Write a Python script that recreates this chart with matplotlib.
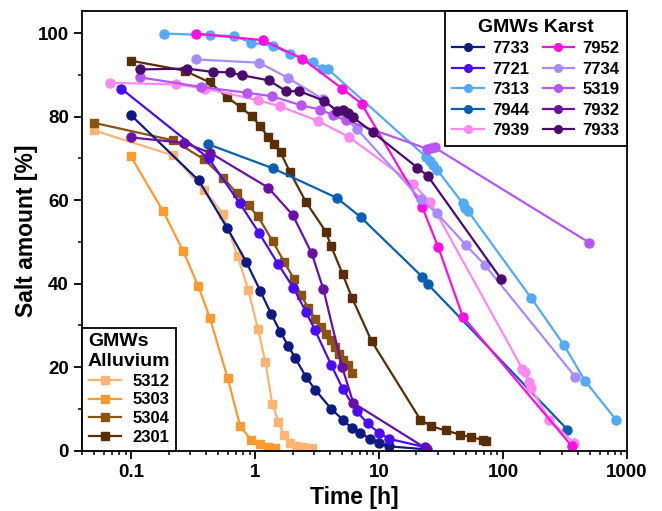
import matplotlib
matplotlib.use("Agg")
import matplotlib.pyplot as plt
from matplotlib.ticker import LogLocator, FixedLocator, NullFormatter, MultipleLocator

plt.rcParams['font.family'] = ['Liberation Sans', 'DejaVu Sans']
plt.rcParams['font.weight'] = 'bold'

# ---------------- data (time [h], salt amount [%]) ----------------
# Karst
x7733 = [0.099, 0.35, 0.592, 0.846, 1.10, 1.34, 1.59, 1.85, 2.10, 2.57, 3.04, 4.09, 5.08, 5.99, 6.99, 8.51, 10.0, 12.0, 23.4]
y7733 = [80.4, 64.7, 53.4, 45.2, 38.2, 32.8, 28.5, 25.0, 22.2, 17.6, 14.6, 10.0, 7.4, 5.4, 4.2, 2.8, 1.8, 1.0, 0.3]
x7721 = [0.083, 0.42, 0.748, 1.08, 1.52, 2.03, 2.57, 3.04, 4.09, 5.08, 6.58, 8.06, 10.0, 12.0, 23.5]
y7721 = [86.7, 70.0, 59.3, 52.0, 44.8, 39.0, 33.2, 28.8, 20.6, 14.8, 9.4, 6.5, 4.2, 2.8, 0.8]
x7313 = [0.183, 0.434, 0.678, 0.929, 1.40, 1.91, 2.91, 3.44, 3.89, 24.0, 25.5, 27.2, 29.3, 47.3, 49.7, 52.0, 169, 311, 460, 814]
y7313 = [99.9, 99.5, 99.3, 97.7, 96.9, 95.0, 93.1, 91.5, 91.3, 70.3, 69.3, 68.3, 67.3, 59.2, 58.2, 57.4, 36.5, 25.2, 16.6, 7.4]
x7944 = [0.415, 1.39, 4.57, 7.1, 22.3, 24.8, 331]
y7944 = [73.4, 67.6, 60.5, 55.9, 41.6, 39.8, 5.0]
x7939 = [0.067, 0.231, 0.396, 1.06, 1.57, 3.19, 5.71, 18.8, 25.9, 143, 150, 163, 168, 236, 375]
y7939 = [88.1, 87.7, 86.7, 83.9, 82.5, 79.0, 75.1, 63.8, 59.5, 19.6, 18.8, 16.4, 15.0, 7.4, 1.75]
x7952 = [0.333, 1.15, 2.40, 5.04, 7.21, 22.3, 29.9, 47.3, 360]
y7952 = [99.9, 98.3, 93.9, 86.7, 83.1, 58.3, 48.8, 32.1, 1.0]
x7734 = [0.333, 1.08, 1.83, 3.55, 6.58, 21.6, 29.3, 50.3, 71, 381]
y7734 = [93.7, 92.9, 89.3, 84.1, 77.1, 60.2, 56.8, 49.2, 44.5, 17.7]
x5319 = [0.117, 0.368, 0.857, 1.36, 2.35, 3.33, 4.27, 5.39, 24.4, 26.0, 28.0, 496]
y5319 = [89.4, 87.1, 85.7, 84.9, 82.7, 81.7, 80.3, 79.1, 72.3, 72.5, 72.6, 49.8]
x7932 = [0.1, 0.268, 0.434, 1.27, 2.01, 2.86, 3.55, 5.03, 6.18, 24.5]
y7932 = [75.0, 73.7, 71.3, 63.0, 56.4, 47.2, 38.6, 20.0, 11.4, 0.3]
x7933 = [0.117, 0.282, 0.454, 0.622, 0.782, 1.28, 1.78, 2.27, 3.59, 4.54, 5.08, 5.63, 6.1, 8.84, 20.3, 24.8, 96.9]
y7933 = [91.3, 91.5, 90.7, 90.6, 89.9, 88.7, 86.1, 86.1, 83.8, 81.4, 81.5, 80.9, 79.9, 76.3, 67.8, 65.7, 41.0]

# Alluvium
x5312 = [0.050, 0.218, 0.384, 0.550, 0.721, 0.879, 1.05, 1.21, 1.37, 1.54, 1.71, 1.91, 2.14, 2.45, 2.86]
y5312 = [76.7, 70.7, 62.5, 56.7, 46.6, 38.4, 29.2, 21.1, 11.2, 6.9, 3.6, 1.8, 1.1, 0.8, 0.6]
x5303 = [0.099, 0.181, 0.263, 0.347, 0.431, 0.60, 0.757, 0.923, 1.09, 1.27, 1.44]
y5303 = [70.5, 57.3, 47.7, 39.4, 31.7, 17.3, 5.8, 2.6, 1.5, 0.8, 0.5]
x5304 = [0.050, 0.218, 0.384, 0.55, 0.712, 0.884, 1.05, 1.38, 1.71, 2.06, 2.34, 2.68, 3.04, 3.38, 3.70, 4.06, 4.40, 4.76, 5.13, 5.56, 5.99]
y5304 = [78.5, 74.3, 69.8, 65.4, 61.6, 58.7, 56.1, 50.2, 45.2, 41.0, 37.2, 34.2, 31.6, 29.6, 28.0, 26.4, 24.8, 23.2, 21.8, 20.6, 18.5]
x2301 = [0.099, 0.27, 0.429, 0.595, 0.762, 0.934, 1.10, 1.27, 1.41, 1.6, 1.91, 2.57, 3.72, 4.09, 5.08, 6.06, 8.69, 21.5, 26.4, 34.4, 45.3, 54.6, 68.4, 73]
y2301 = [93.4, 91.0, 88.2, 84.6, 82.3, 80.1, 77.7, 75.1, 73.4, 71.4, 66.7, 59.5, 52.4, 49.0, 42.2, 36.5, 26.2, 7.4, 5.8, 4.8, 3.8, 3.2, 2.6, 2.2]

karst_labels = ['7733', '7721', '7313', '7944', '7939', '7952', '7734', '5319', '7932', '7933']
karst_x = [x7733, x7721, x7313, x7944, x7939, x7952, x7734, x5319, x7932, x7933]
karst_y = [y7733, y7721, y7313, y7944, y7939, y7952, y7734, y5319, y7932, y7933]
karst_colors = ['#0c1a82', '#4a0cf2', '#55aaf5', '#0a5fb2', '#ff88f2', '#ff10e2',
                '#a98bff', '#b855f5', '#6a10a8', '#4b0a6e']

alluv_labels = ['5312', '5303', '5304', '2301']
alluv_x = [x5312, x5303, x5304, x2301]
alluv_y = [y5312, y5303, y5304, y2301]
alluv_colors = ['#ffb472', '#ff9a30', '#8a5410', '#5a2e05']

# ---------------- figure ----------------
fig = plt.figure(figsize=(6.62, 5.11), dpi=100)
ax = fig.add_axes([82/662, 1-450.5/511, (627-82)/662, (450.5-11)/511])

alluv_handles = []
for xs, ys, c, lab in zip(alluv_x, alluv_y, alluv_colors, alluv_labels):
    h, = ax.plot(xs, ys, '-s', color=c, lw=1.6, ms=6, mec=c, label=lab)
    alluv_handles.append(h)
karst_handles = []
for xs, ys, c, lab in zip(karst_x, karst_y, karst_colors, karst_labels):
    h, = ax.plot(xs, ys, '-o', color=c, lw=1.6, ms=6.5, mec=c, label=lab)
    karst_handles.append(h)

ax.set_xscale('log')
ax.set_xlim(0.04, 1000)
ax.set_ylim(0, 105.3)
ax.xaxis.set_major_locator(FixedLocator([0.1, 1, 10, 100, 1000]))
ax.set_xticklabels(['0.1', '1', '10', '100', '1000'])
ax.xaxis.set_minor_locator(LogLocator(base=10, subs=range(2, 10), numticks=50))
ax.xaxis.set_minor_formatter(NullFormatter())
ax.yaxis.set_major_locator(MultipleLocator(20))
ax.yaxis.set_minor_locator(MultipleLocator(10))

for sp in ax.spines.values():
    sp.set_linewidth(1.3)
ax.tick_params(which='major', direction='out', length=5.5, width=1.3, labelsize=13.5)
ax.tick_params(which='minor', direction='out', length=3, width=1.1)
ax.tick_params(axis='y', which='major', pad=4)
ax.tick_params(axis='x', which='major', pad=4)
ax.tick_params(top=False, right=False, which='both')
for lbl in ax.get_xticklabels() + ax.get_yticklabels():
    lbl.set_fontweight('bold')

ax.set_xlabel('Time [h]', fontsize=16.5, fontweight='bold', labelpad=4)
ax.set_ylabel('Salt amount [%]', fontsize=16.5, fontweight='bold', labelpad=0)

leg1 = ax.legend(handles=karst_handles, ncol=2, loc='upper right', borderaxespad=0,
                 title='GMWs Karst', title_fontproperties={'weight': 'bold', 'size': 14},
                 prop={'weight': 'bold', 'size': 12}, frameon=True, fancybox=False,
                 edgecolor='black', framealpha=1, labelspacing=0.33, handlelength=1.9,
                 handletextpad=0.5, columnspacing=0.8, borderpad=0.45, markerscale=0.85)
leg1.get_frame().set_linewidth(1.3)
ax.add_artist(leg1)

leg2 = ax.legend(handles=alluv_handles, ncol=1, loc='lower left', borderaxespad=0,
                 title='GMWs\nAlluvium', title_fontproperties={'weight': 'bold', 'size': 14},
                 prop={'weight': 'bold', 'size': 12}, frameon=True, fancybox=False,
                 edgecolor='black', framealpha=1, labelspacing=0.22, handlelength=1.9,
                 handletextpad=0.7, borderpad=0.35, markerscale=0.85)
leg2.get_frame().set_linewidth(1.3)
leg2._legend_box.align = 'center'

fig.savefig('out.png', dpi=100)
